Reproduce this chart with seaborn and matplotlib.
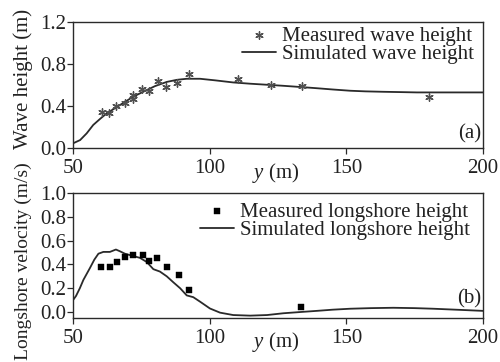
import numpy as np
import pandas as pd
import matplotlib
matplotlib.use("Agg")
import matplotlib.pyplot as plt
import seaborn as sns

# ---- data ----
meas_wave_x = [60.5, 63.2, 65.7, 69.0, 72.1, 72.1, 75.1, 77.8, 81.0, 83.9, 87.9, 92.4, 110.3, 122.3, 133.9, 180.3]
meas_wave_h = [0.34, 0.33, 0.40, 0.43, 0.47, 0.51, 0.565, 0.54, 0.635, 0.58, 0.62, 0.71, 0.66, 0.60, 0.59, 0.49]

sim_wave_x = [50, 52.6, 55.0, 57.4, 60.0, 62.3, 66.0, 69.0, 72.1, 76.0, 80.0, 84.3, 88.0, 91.6, 96.5, 102.0, 108.6, 114.8, 121.0, 127.0, 133.0, 139.2, 145.0, 151.4, 157.0, 163.5, 170.0, 175.8, 185.0, 200]
sim_wave_h = [0.045, 0.076, 0.14, 0.22, 0.28, 0.33, 0.39, 0.44, 0.49, 0.54, 0.59, 0.63, 0.65, 0.66, 0.66, 0.645, 0.625, 0.613, 0.603, 0.593, 0.582, 0.57, 0.558, 0.546, 0.54, 0.536, 0.533, 0.53, 0.53, 0.53]

meas_vel_x = [60.2, 63.5, 66.2, 69.0, 72.1, 75.5, 77.8, 80.6, 84.3, 88.8, 92.6, 133.3]
meas_vel_v = [0.375, 0.38, 0.42, 0.46, 0.475, 0.475, 0.43, 0.45, 0.38, 0.31, 0.185, 0.045]

sim_vel_x = [50, 51.1, 52.5, 53.8, 55.0, 56.2, 57.8, 59.3, 61.1, 63.5, 65.7, 67.2, 69.0, 72.1, 74.5, 77.0, 79.4, 81.8, 84.3, 86.7, 89.2, 91.6, 94.0, 96.5, 100.1, 103.8, 108.6, 114.8, 121.0, 127.0, 133.0, 139.2, 145.0, 151.4, 159.0, 167.2, 175.0, 181.8, 190.0, 200]
sim_vel_v = [0.10, 0.135, 0.20, 0.27, 0.32, 0.37, 0.44, 0.49, 0.505, 0.505, 0.525, 0.51, 0.49, 0.47, 0.455, 0.42, 0.36, 0.34, 0.30, 0.25, 0.20, 0.14, 0.125, 0.087, 0.03, -0.005, -0.025, -0.03, -0.025, -0.01, 0.0, 0.01, 0.02, 0.028, 0.033, 0.036, 0.033, 0.028, 0.02, 0.01]

x_ticks = [50, 100, 150, 200]
wave_ticks = [0.0, 0.4, 0.8, 1.2]
vel_ticks = [0.0, 0.2, 0.4, 0.6, 0.8, 1.0]

# ---- style ----
sns.set_style("ticks")
plt.rcParams['font.family'] = ['Liberation Serif', 'DejaVu Serif']
plt.rcParams['mathtext.fontset'] = 'custom'
plt.rcParams['mathtext.rm'] = 'Liberation Serif'
plt.rcParams['mathtext.it'] = 'Liberation Serif:italic'
FS = 15
dark = '#2a2a2a'
txt = '#222222'

fig = plt.figure(figsize=(5.0, 3.62), dpi=100)
ax1 = fig.add_axes([0.146, 0.591, 0.820, 0.348])
ax2 = fig.add_axes([0.146, 0.1215, 0.820, 0.3455])

df_mw = pd.DataFrame({'x': meas_wave_x, 'y': meas_wave_h})
df_sw = pd.DataFrame({'x': sim_wave_x, 'y': sim_wave_h})
df_mv = pd.DataFrame({'x': meas_vel_x, 'y': meas_vel_v})
df_sv = pd.DataFrame({'x': sim_vel_x, 'y': sim_vel_v})

sns.scatterplot(data=df_mw, x='x', y='y', ax=ax1, marker=(6, 2, 0), s=28,
                color='#505050', linewidth=1.0, label='Measured wave height', zorder=3)
sns.lineplot(data=df_sw, x='x', y='y', ax=ax1, color=dark, linewidth=1.3,
             label='Simulated wave height', sort=False)

sns.scatterplot(data=df_mv, x='x', y='y', ax=ax2, marker='s', s=22,
                color='black', edgecolor='black', linewidth=0.3,
                label='Measured longshore height', zorder=3)
sns.lineplot(data=df_sv, x='x', y='y', ax=ax2, color=dark, linewidth=1.3,
             label='Simulated longshore height', sort=False)

panels = [(ax1, wave_ticks, (0, 1.2), '(a)', 0.035, (1 - 5 / 410, 1.0)),
          (ax2, vel_ticks, (-0.05, 1.0), '(b)', 0.075, (1 - 9 / 410, 1 - 5 / 125))]
for ax, yt, ylim, tag, tag_y, anchor in panels:
    ax.set_xlim(50, 200)
    ax.set_ylim(*ylim)
    ax.set_xticks(x_ticks)
    ax.set_yticks(yt)
    ax.set_xticklabels([str(v) for v in x_ticks])
    ax.set_yticklabels([f"{v:.1f}" for v in yt])
    ax.tick_params(axis='both', direction='out', length=4.5, width=0.9,
                   labelsize=FS, colors=dark, labelcolor=txt)
    ax.tick_params(axis='x', pad=3.5)
    ax.tick_params(axis='y', pad=0.5)
    for sp in ax.spines.values():
        sp.set_visible(True)
        sp.set_color(dark)
        sp.set_linewidth(1.0)
    ax.set_xlabel('$y$ (m)', fontsize=FS, color=txt)
    ax.xaxis.label.set_va('center')
    ax.set_ylabel('')
    ax.text(0.995, tag_y, tag, transform=ax.transAxes, ha='right', va='bottom',
            fontsize=FS, color=txt)
    leg = ax.legend(loc='upper right', bbox_to_anchor=anchor, frameon=False,
                    fontsize=FS, labelspacing=-0.05, handlelength=1.6,
                    handletextpad=0.3, borderpad=0.2, borderaxespad=0.0)
    for t in leg.get_texts():
        t.set_color(txt)

ax1.xaxis.set_label_coords(0.495, -0.2)
ax2.xaxis.set_label_coords(0.495, -0.19)

fig.text(0.046, (362 - 79) / 362, 'Wave height (m)', rotation=90, ha='center',
         va='center', fontsize=FS, color=txt)
fig.text(0.046, (362 - 261) / 362, 'Longshore velocity (m/s)', rotation=90,
         ha='center', va='center', fontsize=14, color=txt)

fig.savefig('out.png', dpi=100)
